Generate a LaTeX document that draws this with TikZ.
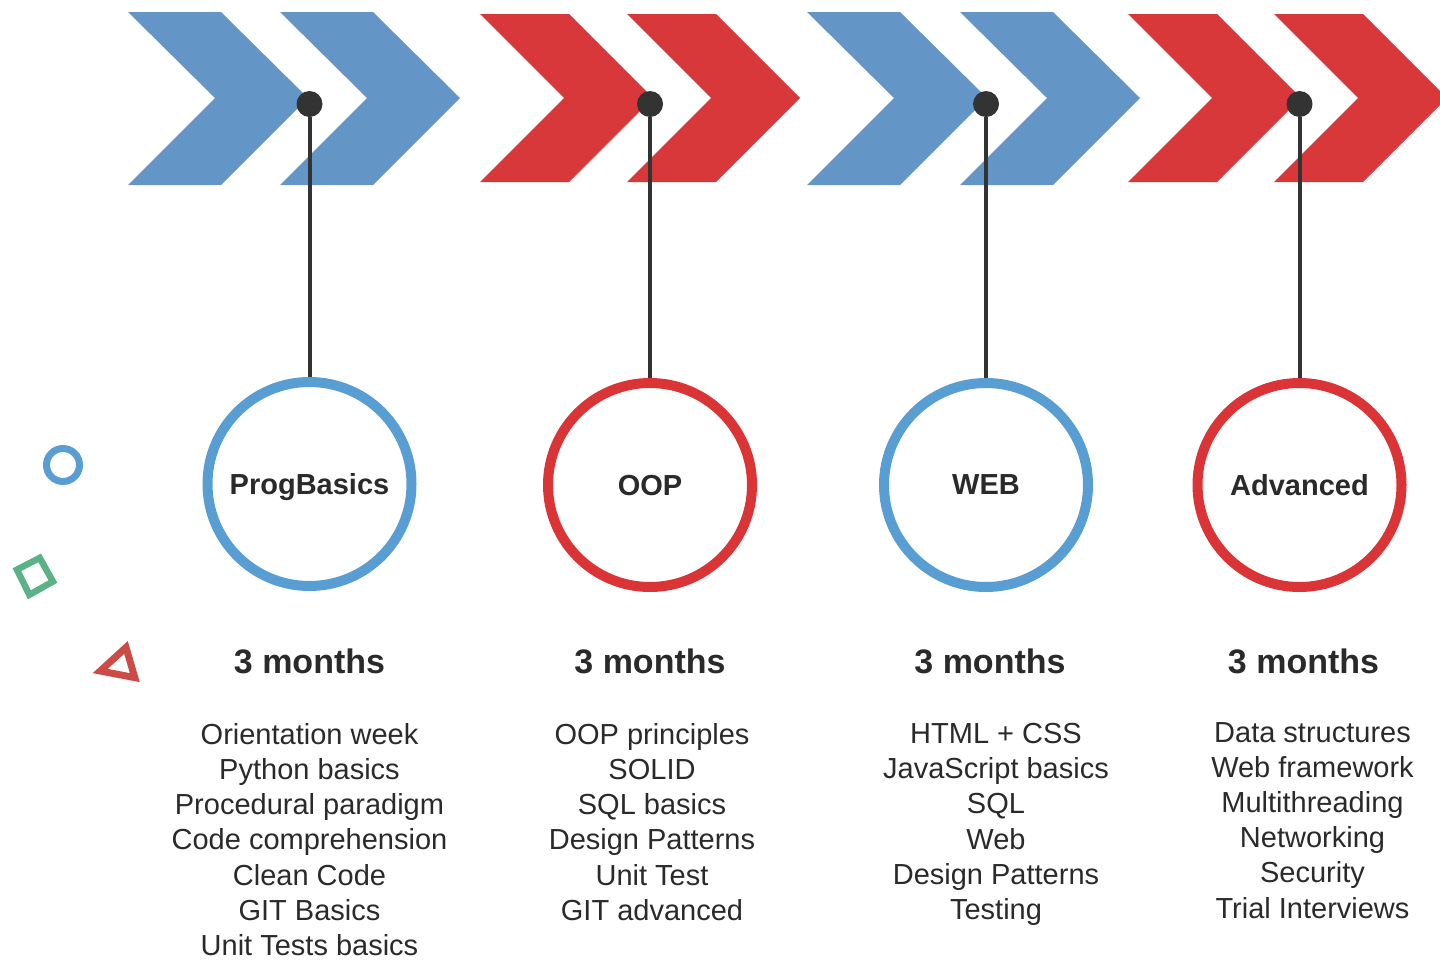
\documentclass[tikz,border=0pt]{standalone}
\usepackage{fontspec}
\setmainfont{Liberation Sans}
\usepackage{tikz}

\definecolor{arrowblue}{HTML}{6395C6}
\definecolor{arrowred}{HTML}{D83839}
\definecolor{ringblue}{HTML}{589ED3}
\definecolor{ringred}{HTML}{DA3436}
\definecolor{shapegreen}{HTML}{5AB287}
\definecolor{shapered}{HTML}{CD4B46}
\definecolor{ink}{HTML}{333333}
\definecolor{words}{HTML}{2A2A2A}

\begin{document}
\begin{tikzpicture}[x = 1pt, y = -1pt,
  stage/.style = {circle, draw = #1, line width = 10pt, fill = white, minimum size = 204pt, text depth = 0pt,
    font = \fontsize{29}{35}\selectfont\bfseries, text = words},
  pin/.style = {circle, fill = ink, inner sep = 0pt, minimum size = 26pt},
  stem/.style = {draw = ink, line width = 4pt},
  duration/.style = {font = \fontsize{34}{40}\selectfont\bfseries, text = words},
  topics/.style = {align = center, anchor = north, inner sep = 0pt, font = \fontsize{29}{35.2}\selectfont, text = words}]

\useasboundingbox (0, 0) rectangle (1440, 959);

% Chevrons
\foreach \lx/\w/\tip/\hi/\lo/\col in {128/93/87/12/185/arrowblue, 280/93/87/12/185/arrowblue,
    480/89/84/14/182/arrowred, 627/89/84/14/182/arrowred,
    807/93/87/12/185/arrowblue, 960/93/87/12/185/arrowblue,
    1128/89/84/14/182/arrowred, 1274/89/84/14/182/arrowred} {
  \fill[\col] (\lx, \hi) -- ({\lx + \w}, \hi) -- ({\lx + \w + \tip}, 98) -- ({\lx + \w}, \lo)
    -- (\lx, \lo) -- ({\lx + \tip}, 98) -- cycle;
}

% Shapes on the left
\draw[ringblue, line width = 7pt] (63, 465) circle (16.5);
\draw[shapegreen, line width = 6.5pt, line join = miter] (16.9, 569.7) -- (39.7, 557.9) -- (52.9, 581.5) -- (29.4, 594.8) -- cycle;
\draw[shapered, line width = 7pt, line join = miter] (100.2, 671) -- (126, 647.4) -- (134.8, 677.6) -- cycle;

% ProgBasics
\def\offset{309.5}
\node[pin] (pin1) at (\offset, 104) {};
\node[stage = ringblue] (prog) at (\offset, 484) {ProgBasics};
\draw[stem] (pin1) -- (prog);
\node[duration] (dur1) at (\offset, 661) {3 months};
\node[topics] (list1) at (\offset, 723) {Orientation week\\ Python basics\\ Procedural paradigm\\
  Code comprehension\\ Clean Code\\ GIT Basics\\ Unit Tests basics};

% OOP
\def\offset{650}
\node[pin] (pin2) at (\offset, 104) {};
\node[stage = ringred] (oop) at (\offset, 485) {OOP};
\draw[stem] (pin2) -- (oop);
\node[duration] (dur2) at (\offset, 661) {3 months};
\node[topics] (list2) at ({\offset + 2}, 723) {OOP principles\\ SOLID\\ SQL basics\\ Design Patterns\\
  Unit Test\\ GIT advanced};

% WEB
\def\offset{986}
\node[pin] (pin3) at (\offset, 104) {};
\node[stage = ringblue] (web) at (\offset, 485) {WEB};
\draw[stem] (pin3) -- (web);
\node[duration] (dur3) at ({\offset + 4}, 661) {3 months};
\node[topics] (list3) at ({\offset + 10}, 723) {HTML + CSS\\ JavaScript basics\\ SQL\\ Web\\
  Design Patterns\\ Testing};

% Advanced
\def\offset{1299.5}
\node[pin] (pin4) at (\offset, 104) {};
\node[stage = ringred] (adv) at (\offset, 485) {Advanced};
\draw[stem] (pin4) -- (adv);
\node[duration] (dur4) at ({\offset + 4}, 661) {3 months};
\node[topics] (list4) at ({\offset + 13}, 722) {Data structures\\ Web framework\\ Multithreading\\
  Networking\\ Security\\ Trial Interviews};

\end{tikzpicture}
\end{document}
